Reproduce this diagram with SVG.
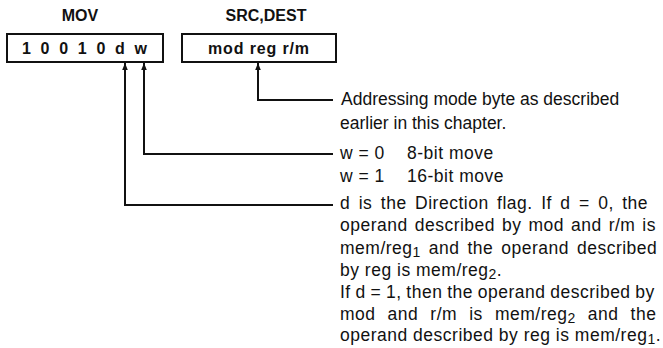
<svg xmlns="http://www.w3.org/2000/svg" width="663" height="348" viewBox="0 0 663 348">
<defs>
<style>
.t{font-family:"Liberation Sans",Arial,sans-serif;font-size:17.5px;fill:#111}
.b{letter-spacing:0.5px}
.h{font-family:"Liberation Sans",Arial,sans-serif;font-size:16px;font-weight:bold;fill:#111}
.box{fill:#fff;stroke:#111;stroke-width:2}
.ln{fill:none;stroke:#111;stroke-width:2}
.sub{font-size:14px}
</style>
<marker id="ah" viewBox="0 0 10 10" refX="10" refY="5" markerWidth="10" markerHeight="7" markerUnits="userSpaceOnUse" orient="auto">
<path d="M0,1 L10,5 L0,9 Z" fill="#111"/>
</marker>
</defs>
<rect width="663" height="348" fill="#fff"/>
<g id="titles">
<text class="h" x="80" y="21" text-anchor="middle">MOV</text>
<text class="h" x="266" y="21" text-anchor="middle">SRC,DEST</text>
</g>
<g id="opcode">
<rect class="box" x="7" y="34" width="156" height="28"/>
<text class="h" x="22" y="54" textLength="125" lengthAdjust="spacing">1 0 0 1 0 d w</text>
</g>
<g id="modrm">
<rect class="box" x="182" y="34" width="154" height="28"/>
<text class="h" x="208" y="54" textLength="101" lengthAdjust="spacing">mod reg r/m</text>
</g>
<g id="connectors">
<path class="ln" d="M333,100 H258 V63" marker-end="url(#ah)"/>
<path class="ln" d="M333,154 H144 V63" marker-end="url(#ah)"/>
<path class="ln" d="M333,205 H125 V63" marker-end="url(#ah)"/>
</g>
<g id="addr-text">
<text class="t" x="341" y="105">Addressing mode byte as described</text>
<text class="t" x="340" y="129">earlier in this chapter.</text>
</g>
<g id="w-text">
<text class="t b" x="340" y="159">w = 0<tspan x="407">8-bit move</tspan></text>
<text class="t b" x="340" y="182">w = 1<tspan x="407">16-bit move</tspan></text>
</g>
<g id="d-text">
<text class="t b" x="340" y="209" word-spacing="3.1">d is the Direction flag. If d = 0, the</text>
<text class="t b" x="340" y="231" word-spacing="1.6">operand described by mod and r/m is</text>
<text class="t b" x="340" y="254" word-spacing="2.6">mem/reg<tspan class="sub" dy="3">1</tspan><tspan dy="-3"> and the operand described</tspan></text>
<text class="t b" x="340" y="276">by reg is mem/reg<tspan class="sub" dy="3">2</tspan><tspan dy="-3">.</tspan></text>
<text class="t b" x="340" y="298" word-spacing="-0.6">If d = 1, then the operand described by</text>
<text class="t b" x="340" y="320" word-spacing="6.7">mod and r/m is mem/reg<tspan class="sub" dy="3">2</tspan><tspan dy="-3"> and the</tspan></text>
<text class="t b" x="340" y="341">operand described by reg is mem/reg<tspan class="sub" dy="3">1</tspan><tspan dy="-3">.</tspan></text>
</g>
</svg>
